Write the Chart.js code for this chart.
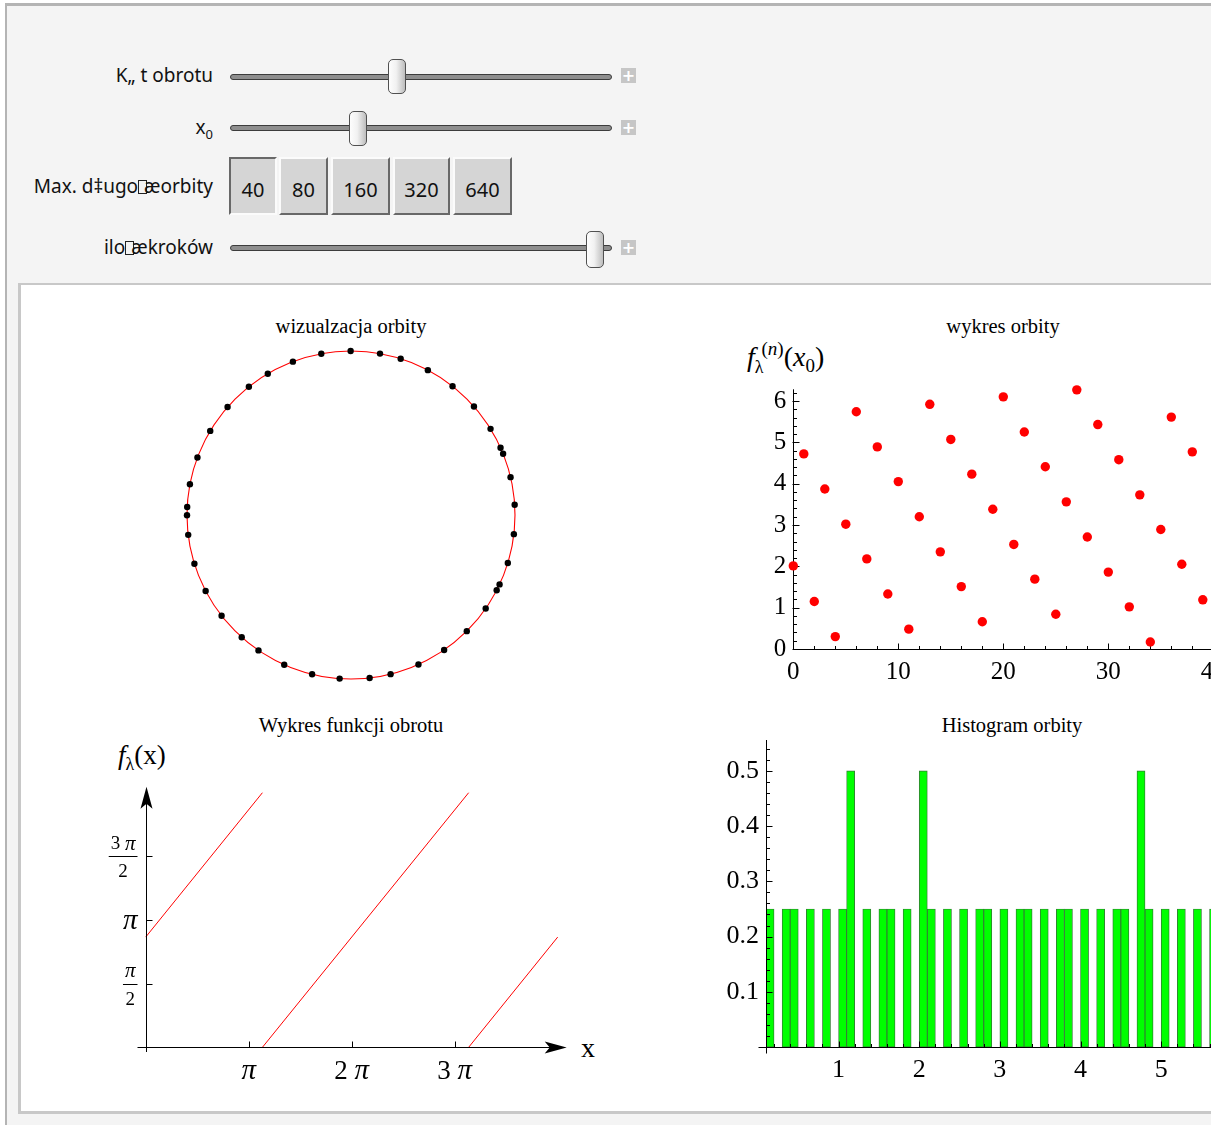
<!DOCTYPE html>
<html><head><meta charset="utf-8">
<script src="https://cdn.jsdelivr.net/npm/chart.js@4.4.1/dist/chart.umd.min.js"></script>
<style>
html,body{margin:0;padding:0}
body{width:1211px;height:1125px;overflow:hidden;position:relative;background:#fff;font-family:"Noto Sans","Open Sans",sans-serif;}
*{box-sizing:border-box}
.abs{position:absolute}
#outer{left:5px;top:3px;width:1320px;height:1200px;background:#f4f4f4;border-left:2px solid #b4b4b4;border-top:3px solid #b4b4b4;}
#panel{left:18px;top:283px;width:1320px;height:831px;background:#fff;border-left:3px solid #c8c8c8;border-top:2px solid #c8c8c8;border-bottom:3px solid #c8c8c8;}
.lbl{position:absolute;right:998px;font-size:19px;color:#111;white-space:nowrap;line-height:22px}
.bx{display:inline-block;width:9px;height:14px;border:1px solid #222;margin-right:-3px;vertical-align:-1px;color:transparent;font-size:1px;overflow:hidden}
.track{position:absolute;left:230px;width:382px;height:6px;border:1px solid #3c3c3c;border-radius:3px;background:#8e8e8e}
.thumb{position:absolute;width:18px;height:35px;border:1px solid #505050;border-radius:5px;background:linear-gradient(to right,#fdfdfd,#f1f1f1 45%,#bdbdbd)}
.plus{position:absolute;left:621px;width:15px;height:15px;background:#c6c6c6;color:#fff;font:bold 16px/15px "DejaVu Sans",sans-serif;text-align:center}
.btn{position:absolute;top:157px;height:58px;background:#d5d5d5;border:2px solid;border-color:#fbfbfb #686868 #686868 #fbfbfb;font-size:20px;text-align:center;line-height:58px;padding-top:2px;color:#111}
.btn.on{border-color:#686868 #fbfbfb #fbfbfb #686868}
.serif{font-family:"Liberation Serif","Times New Roman",serif;color:#000;white-space:nowrap;line-height:1}
.title{position:absolute;font-size:20.5px;transform:translateX(-50%)}
canvas{position:absolute}
</style>
</head>
<body>
<div id="outer" class="abs"></div>

<div class="lbl" style="top:64px">K„ t obrotu</div>
<div class="track" style="top:74px"></div>
<div class="thumb" style="left:388px;top:59px"></div>
<div class="plus" style="top:68px">+</div>

<div class="lbl" style="top:116px">x<sub style="font-size:13px">0</sub></div>
<div class="track" style="top:125px"></div>
<div class="thumb" style="left:349px;top:111px"></div>
<div class="plus" style="top:120px">+</div>

<div class="lbl" style="top:175px">Max. d‡ugo<span class="bx">▯</span>æorbity</div>
<div class="btn on" style="left:229px;width:48px">40</div>
<div class="btn" style="left:279px;width:49px">80</div>
<div class="btn" style="left:331px;width:59px">160</div>
<div class="btn" style="left:393px;width:57px">320</div>
<div class="btn" style="left:453px;width:59px">640</div>

<div class="lbl" style="top:236px">ilo<span class="bx">▯</span>ækroków</div>
<div class="track" style="top:245px"></div>
<div class="thumb" style="left:586px;top:231px;height:37px"></div>
<div class="plus" style="top:240px">+</div>

<div id="panel" class="abs"></div>

<div class="serif title" style="left:351px;top:316px">wizualzacja orbity</div>
<div class="serif title" style="left:1003px;top:316px">wykres orbity</div>
<div class="serif title" style="left:351px;top:715px">Wykres funkcji obrotu</div>
<div class="serif title" style="left:1012px;top:715px">Histogram orbity</div>

<div class="serif abs" style="left:747px;top:343px;font-size:28px"><i>f</i><span style="font-size:18px;position:relative;top:7px">λ</span><span style="font-size:19px;position:relative;top:-11px;margin-left:-2px">(<i>n</i>)</span>(<i>x</i><span style="font-size:19px;position:relative;top:6px">0</span>)</div>
<div class="serif abs" style="left:118px;top:742px;font-size:27px"><i>f</i><span style="font-size:18px;position:relative;top:6px">λ</span>(x)</div>
<div class="serif abs" style="left:581px;top:1034px;font-size:28px">x</div>

<canvas id="cCircle" width="360" height="360" style="left:171px;top:335px"></canvas>
<canvas id="cOrbit" width="540" height="320" style="left:733px;top:380px"></canvas>
<canvas id="cRot" width="520" height="340" style="left:95px;top:760px"></canvas>
<canvas id="cHist" width="600" height="380" style="left:690px;top:730px"></canvas>

<script>
// ---------------- data ----------------
const orbitIndex = [0,1,2,3,4,5,6,7,8,9,10,11,12,13,14,15,16,17,18,19,20,21,22,23,24,25,26,27,28,29,30,31,32,33,34,35,36,37,38,39];
const orbitValues = [2.01,4.72,1.15,3.87,0.30,3.02,5.74,2.18,4.89,1.33,4.05,0.48,3.20,5.92,2.35,5.07,1.51,4.23,0.66,3.38,6.10,2.53,5.25,1.69,4.41,0.84,3.56,6.27,2.71,5.43,1.86,4.58,1.02,3.73,0.17,2.89,5.61,2.05,4.77,1.19];
const circleRotation = -1.627;           // angular offset of the orbit drawn on the circle
const rotSegX = [[0, 3.56], [3.56, 9.85], [9.85, 12.566]];
const rotSegY = [[2.72, 6.283], [0, 6.283], [0, 2.72]];
const histBinWidth = 0.1;
const histEdges = [0.0,0.1,0.2,0.3,0.4,0.5,0.6,0.7,0.8,0.9,1.0,1.1,1.2,1.3,1.4,1.5,1.6,1.7,1.8,1.9,2.0,2.1,2.2,2.3,2.4,2.5,2.6,2.7,2.8,2.9,3.0,3.1,3.2,3.3,3.4,3.5,3.6,3.7,3.8,3.9,4.0,4.1,4.2,4.3,4.4,4.5,4.6,4.7,4.8,4.9,5.0,5.1,5.2,5.3,5.4,5.5,5.6,5.7,5.8,5.9,6.0,6.1,6.2];
const histHeights = [0,0.25,0,0.25,0.25,0,0.25,0,0.25,0,0.25,0.5,0,0.25,0,0.25,0.25,0,0.25,0,0.5,0.25,0,0.25,0,0.25,0,0.25,0.25,0,0.25,0,0.25,0.25,0,0.25,0,0.25,0.25,0,0.25,0,0.25,0,0.25,0.25,0,0.5,0.25,0,0.25,0,0.25,0,0.25,0,0.25,0.25,0,0.25,0,0.25,0.25];
const orbitXTicks = [0,10,20,30,40];
const orbitYTicks = [0,1,2,3,4,5,6];
const histXTicks = [1,2,3,4,5];
const histYTicks = [0.1,0.2,0.3,0.4,0.5];
const histYLabels = ['0.1','0.2','0.3','0.4','0.5'];
const rotXTicks = [Math.PI, 2*Math.PI, 3*Math.PI];
const rotXLabels = [['', 'π'], ['2 ', 'π'], ['3 ', 'π']];
const rotYTicks = [Math.PI/2, Math.PI, 3*Math.PI/2];
const rotYLabels = [['π','2'], 'π', ['3 π','2']];
// -------------------------------------------------------------

const TWO_PI = 2*Math.PI;
const SERIF = '"Liberation Serif","Times New Roman",serif';
const base = {responsive:false, animation:false, devicePixelRatio:1, events:[],
  plugins:{legend:{display:false}, tooltip:{enabled:false}, title:{display:false}}};

function fixAxis(size){
  return function(s){
    if (s.isHorizontal()) s.height = size; else s.width = size;
    s.paddingLeft = s.paddingRight = s.paddingTop = s.paddingBottom = 0;
  };
}
function setTicks(arr){ return function(s){ s.ticks = arr.map(v => ({value:v})); }; }
function hline(ctx,x1,x2,y){ ctx.beginPath(); ctx.moveTo(x1,y); ctx.lineTo(x2,y); ctx.stroke(); }
function vline(ctx,x,y1,y2){ ctx.beginPath(); ctx.moveTo(x,y1); ctx.lineTo(x,y2); ctx.stroke(); }
const px = v => Math.round(v) + 0.5;

// draw "num π" with π in italic
function drawPiText(ctx, parts, cx, cy, size) {
  const fN = size + 'px ' + SERIF, fP = 'italic ' + (size + 2) + 'px ' + SERIF;
  ctx.font = fN; const w1 = ctx.measureText(parts[0]).width;
  ctx.font = fP; const w2 = ctx.measureText(parts[1]).width;
  const x0 = cx - (w1 + w2) / 2;
  ctx.textAlign = 'left';
  ctx.font = fN; ctx.fillText(parts[0], x0, cy);
  ctx.font = fP; ctx.fillText(parts[1], x0 + w1, cy);
  return w1 + w2;
}
function piWidth(ctx, parts, size) {
  ctx.font = size + 'px ' + SERIF; const w1 = ctx.measureText(parts[0]).width;
  ctx.font = 'italic ' + (size + 2) + 'px ' + SERIF; return w1 + ctx.measureText(parts[1]).width;
}

// ---------- circle ----------
const circlePlugin = {id:'unitCircle', beforeDatasetsDraw(chart){
  const {ctx, scales:{x,y}} = chart;
  const cx = x.getPixelForValue(0), cy = y.getPixelForValue(0), r = x.getPixelForValue(1) - cx;
  ctx.save(); ctx.strokeStyle = '#ff0000'; ctx.lineWidth = 1.1;
  ctx.beginPath(); ctx.arc(cx, cy, r, 0, TWO_PI); ctx.stroke(); ctx.restore();
}};
const R = 1.0976;
new Chart(document.getElementById('cCircle'), {
  type:'scatter',
  data:{datasets:[{data: orbitValues.map(v => ({x:Math.cos(v+circleRotation), y:Math.sin(v+circleRotation)})),
    pointRadius:3.2, pointBackgroundColor:'#000', pointBorderColor:'#000', pointBorderWidth:0, clip:false}]},
  options:{...base, layout:{padding:0, autoPadding:false},
    scales:{x:{type:'linear', min:-R, max:R, display:false}, y:{type:'linear', min:-R, max:R, display:false}}},
  plugins:[circlePlugin]
});

// ---------- orbit ----------
const orbitAxes = {id:'orbitAxes', beforeDatasetsDraw(chart){
  const {ctx, scales:{x,y}} = chart;
  const X0 = px(x.getPixelForValue(0)), Y0 = px(y.getPixelForValue(0));
  ctx.save(); ctx.strokeStyle='#000'; ctx.lineWidth=1;
  vline(ctx, X0, y.getPixelForValue(TWO_PI), Y0);
  hline(ctx, X0, x.getPixelForValue(40), Y0);
  for (let v = 0; v <= 6.21; v += 0.2) {
    const major = Math.abs(v - Math.round(v)) < 1e-6;
    const yy = px(y.getPixelForValue(v));
    hline(ctx, X0 - (major?1:0), X0 + (major?6:3.5), yy);
  }
  for (let v = 0; v <= 40; v += 2) {
    const major = v % 10 === 0;
    const xx = px(x.getPixelForValue(v));
    vline(ctx, xx, Y0 - (major?6:3.5), Y0);
  }
  ctx.restore();
}};
new Chart(document.getElementById('cOrbit'), {
  type:'scatter',
  data:{datasets:[{data: orbitIndex.map((n,i) => ({x:n, y:orbitValues[i]})),
    pointRadius:4.7, pointBackgroundColor:'#ff0000', pointBorderColor:'#ff0000', pointBorderWidth:0, clip:false}]},
  options:{...base, layout:{padding:{top:9.3, right:59.7, left:0, bottom:0}, autoPadding:false},
    scales:{
      x:{type:'linear', min:0, max:40, afterFit:fixAxis(51), afterBuildTicks:setTicks(orbitXTicks),
         grid:{display:false, drawTicks:false}, border:{display:false},
         ticks:{autoSkip:false, maxRotation:0, padding:8, color:'#000', font:{family:SERIF, size:25}, callback:v => String(v)}},
      y:{type:'linear', min:0, max:TWO_PI, afterFit:fixAxis(60.3), afterBuildTicks:setTicks(orbitYTicks),
         grid:{display:false, drawTicks:false}, border:{display:false},
         ticks:{autoSkip:false, padding:7, color:'#000', font:{family:SERIF, size:25}, callback:v => String(v)}}
    }},
  plugins:[orbitAxes]
});

// ---------- rotation function ----------
const rotAxes = {id:'rotAxes', afterDatasetsDraw(chart){
  const {ctx, scales:{x,y}} = chart;
  const X0 = px(x.getPixelForValue(0)), Y0 = px(y.getPixelForValue(0));
  const xEnd = x.getPixelForValue(4*Math.PI) + 9, yEnd = y.getPixelForValue(TWO_PI) - 6;
  ctx.save(); ctx.strokeStyle='#000'; ctx.fillStyle='#000'; ctx.lineWidth=1;
  hline(ctx, X0 - 9, xEnd - 12, Y0);
  vline(ctx, X0, Y0 + 4.5, yEnd + 12);
  // arrowheads
  ctx.beginPath(); ctx.moveTo(xEnd, Y0); ctx.lineTo(xEnd-22, Y0-6); ctx.lineTo(xEnd-17, Y0); ctx.lineTo(xEnd-22, Y0+6); ctx.closePath(); ctx.fill();
  ctx.beginPath(); ctx.moveTo(X0, yEnd); ctx.lineTo(X0-6, yEnd+22); ctx.lineTo(X0, yEnd+17); ctx.lineTo(X0+6, yEnd+22); ctx.closePath(); ctx.fill();
  rotXTicks.forEach(v => { vline(ctx, px(x.getPixelForValue(v)), Y0 - 6, Y0); });
  rotYTicks.forEach(v => { hline(ctx, X0, X0 + 6, px(y.getPixelForValue(v))); });
  ctx.textBaseline = 'middle';
  // x labels
  rotXLabels.forEach((lab, i) => { drawPiText(ctx, lab, x.getPixelForValue(rotXTicks[i]), Y0 + 24, 27); });
  // y labels (fractions)
  const rightEdge = X0 - 9;
  rotYLabels.forEach((lab, i) => {
    const yy = y.getPixelForValue(rotYTicks[i]);
    if (Array.isArray(lab)) {
      const num = lab[0].split(' ');
      const numParts = num.length > 1 ? [num[0] + ' ', num[1]] : ['', num[0]];
      const wn = piWidth(ctx, numParts, 19);
      ctx.font = '19px ' + SERIF; const wd = ctx.measureText(lab[1]).width;
      const w = Math.max(wn, wd) + 4;
      const cx = rightEdge - w/2;
      drawPiText(ctx, numParts, cx, yy - 12, 19);
      ctx.font = '19px ' + SERIF; ctx.textAlign = 'center';
      ctx.fillText(lab[1], cx, yy + 16);
      hline(ctx, rightEdge - w, rightEdge, px(yy));
    } else {
      const w = piWidth(ctx, ['', lab], 27);
      drawPiText(ctx, ['', lab], rightEdge - w/2, yy + 1, 27);
    }
  });
  ctx.restore();
}};
new Chart(document.getElementById('cRot'), {
  type:'scatter',
  data:{datasets: rotSegX.map((sx, i) => ({data:[{x:sx[0], y:rotSegY[i][0]}, {x:sx[1], y:rotSegY[i][1]}],
    showLine:true, borderColor:'#ff0000', borderWidth:1, pointRadius:0, clip:false}))},
  options:{...base, layout:{padding:{top:32.7, right:57.3, left:0, bottom:0}, autoPadding:false},
    scales:{
      x:{type:'linear', min:0, max:4*Math.PI, afterFit:fixAxis(52.7), afterBuildTicks:setTicks(rotXTicks),
         grid:{display:false, drawTicks:false}, border:{display:false}, ticks:{display:false}},
      y:{type:'linear', min:0, max:TWO_PI, afterFit:fixAxis(50.7), afterBuildTicks:setTicks(rotYTicks),
         grid:{display:false, drawTicks:false}, border:{display:false}, ticks:{display:false}}
    }},
  plugins:[rotAxes]
});

// ---------- histogram ----------
const histAxes = {id:'histAxes', afterDatasetsDraw(chart){
  const {ctx, scales:{x,y}} = chart;
  const X0 = px(x.getPixelForValue(x.min)), Y0 = px(y.getPixelForValue(0));
  ctx.save(); ctx.strokeStyle='#000'; ctx.lineWidth=1;
  hline(ctx, X0 - 8, x.right, Y0);
  vline(ctx, X0, y.getPixelForValue(y.max), Y0 + 6);
  for (let k = 1; k <= 27; k++) {
    const v = k * 0.02, major = k % 5 === 0;
    const yy = px(y.getPixelForValue(v));
    hline(ctx, X0, X0 + (major?6:3.5), yy);
  }
  for (let k = 1; k <= 31; k++) {
    const v = k * 0.2, major = k % 5 === 0;
    const xx = px(x.getPixelForValue(v));
    vline(ctx, xx, Y0 - (major?6:3.5), Y0);
  }
  ctx.restore();
}};
new Chart(document.getElementById('cHist'), {
  type:'bar',
  data:{datasets:[{data: histEdges.map((e,i) => ({x:e + histBinWidth/2, y:histHeights[i]})),
    backgroundColor:'#00ff00', borderColor:'#347a34', borderWidth:0.9, borderSkipped:false,
    barPercentage:1, categoryPercentage:1}]},
  options:{...base, layout:{padding:{top:10, right:24, left:0, bottom:0}, autoPadding:false},
    scales:{
      x:{type:'linear', min:0.1, max:6.3, offset:false, afterFit:fixAxis(63), afterBuildTicks:setTicks(histXTicks),
         grid:{display:false, drawTicks:false, offset:false}, border:{display:false},
         ticks:{autoSkip:false, maxRotation:0, padding:8, color:'#000', font:{family:SERIF, size:26}, callback:v => String(v)}},
      y:{type:'linear', min:0, max:0.556, afterFit:fixAxis(76), afterBuildTicks:setTicks(histYTicks),
         grid:{display:false, drawTicks:false}, border:{display:false},
         ticks:{autoSkip:false, padding:7, color:'#000', font:{family:SERIF, size:26}, callback:(v,i) => histYLabels[i]}}
    }},
  plugins:[histAxes]
});
</script>
</body></html>
